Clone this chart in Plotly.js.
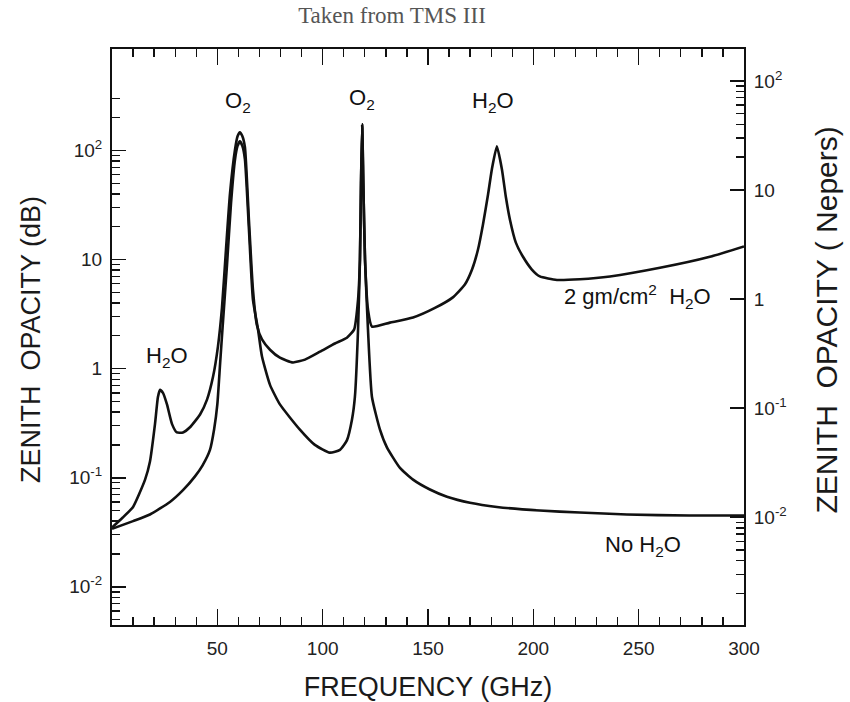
<!DOCTYPE html>
<html>
<head>
<meta charset="utf-8">
<script src="https://cdn.plot.ly/plotly-3.0.1.min.js"></script>
<style>html,body{margin:0;padding:0;background:#fff;}#chart{width:850px;height:702px;}</style>
</head>
<body>
<div id="chart"></div>
<script>
// Frequency (GHz) and zenith opacity (dB)
const freqNoH2O = [0, 10, 18, 27.5, 33.7, 39.4, 43, 46.5, 48.5, 50, 51.3, 52.5, 53.5, 54.6, 56.5, 58.4, 59.6, 60.7, 61.9, 63.1, 65, 66.9, 69.3, 71.2, 75, 79.7, 89.2, 96.3, 103.4, 108.2, 111.5, 113.9, 115.3, 116.8, 117.7, 118.2, 118.75, 119.3, 120.1, 121.5, 123.4, 127.2, 130.5, 136.7, 142.9, 150.9, 159, 169.9, 182.7, 203, 222, 244.4, 274, 300];
const opacityNoH2O = [0.034, 0.040, 0.046, 0.060, 0.077, 0.103, 0.13, 0.18, 0.28, 0.47, 1.1, 2.4, 4.5, 9, 33, 83, 110, 121, 110, 83, 19, 4.3, 2.3, 1.29, 0.71, 0.47, 0.276, 0.20, 0.17, 0.18, 0.22, 0.34, 0.55, 2.3, 10, 50, 174, 50, 10, 2.3, 0.55, 0.276, 0.19, 0.123, 0.096, 0.078, 0.067, 0.059, 0.054, 0.050, 0.048, 0.046, 0.045, 0.045];

const freqWet = [0, 5, 10, 15.7, 18, 20.4, 21.8, 22.8, 24.2, 26.1, 28.5, 30.8, 33.7, 37, 41.8, 45.1, 48, 50.3, 52.2, 54.1, 56, 58.4, 59.6, 60.7, 61.9, 63.1, 65, 66.9, 68.8, 71.2, 75, 79.7, 85.9, 91.6, 98.7, 105.8, 111.5, 114.9, 116.8, 117.7, 118.2, 118.75, 119.3, 120.1, 121.5, 123.4, 131.9, 142.9, 153.3, 161.8, 167.5, 170.9, 173.7, 176.1, 178.5, 180.3, 182.7, 185.1, 187, 188.9, 191.7, 195.1, 199.3, 203.1, 211.2, 222.1, 236.4, 260.1, 283.8, 300];
const opacityWet = [0.035, 0.043, 0.054, 0.096, 0.14, 0.31, 0.55, 0.64, 0.60, 0.47, 0.31, 0.26, 0.26, 0.29, 0.38, 0.52, 0.85, 1.6, 3.6, 12.3, 40, 102, 135, 147, 135, 107, 23, 5.3, 2.5, 1.85, 1.49, 1.26, 1.14, 1.21, 1.43, 1.7, 1.92, 2.28, 4.3, 10, 50, 174, 50, 10, 3.5, 2.43, 2.64, 2.94, 3.6, 4.5, 5.9, 8.1, 12.3, 21, 39.4, 67, 109, 67, 37, 23.2, 14.3, 10.6, 8.1, 7.0, 6.5, 6.6, 7.0, 8.4, 10.6, 13.2];

const xTickVals = [50, 100, 150, 200, 250, 300];
const yTickVals = [0.01, 0.1, 1, 10, 100];
const yTickText = ['10<sup>-2</sup>', '10<sup>-1</sup>', '1', '10', '10<sup>2</sup>'];
const npTickVals = [0.01, 0.1, 1, 10, 100];
const npTickText = ['10<sup>-2</sup>', '10<sup>-1</sup>', '1', '10', '10<sup>2</sup>'];

const DB_PER_NEPER_LOG = Math.log10(10 * Math.LOG10E); // 1 Np = 4.343 dB
const yLogRange = [-2.35, 2.93];

// minor tick positions
const leftMinor = [];
[0.001, 0.01, 0.1, 1, 10].forEach(d => { for (let k = 2; k <= 9; k++) leftMinor.push(k * d); });
leftMinor.push(200, 300);
const rightMinor = [];
for (let k = 2; k <= 9; k++) { rightMinor.push(k * 0.001); rightMinor.push(k * 10); }

const ink = '#111';
const lineStyle = {color: ink, width: 2.6, shape: 'spline', smoothing: 0.5};

const traces = [
  {x: freqNoH2O, y: opacityNoH2O, type: 'scatter', mode: 'lines', line: lineStyle, name: 'No H2O', hoverinfo: 'x+y'},
  {x: freqWet, y: opacityWet, type: 'scatter', mode: 'lines', line: lineStyle, name: '2 gm/cm2 H2O', hoverinfo: 'x+y'},
  // empty trace so that the Nepers axis is drawn
  {x: [], y: [], type: 'scatter', mode: 'lines', yaxis: 'y2', showlegend: false, hoverinfo: 'skip'}
];

const tickFont = {family: 'Liberation Sans, Arial, sans-serif', size: 19, color: '#222'};
const annFont = {family: 'Liberation Sans, Arial, sans-serif', size: 22, color: '#111'};
const titleFont = {family: 'Liberation Sans, Arial, sans-serif', size: 27, color: '#1a1a1a'};

const layout = {
  width: 850, height: 702,
  margin: {l: 112, r: 106, t: 49, b: 77},
  paper_bgcolor: '#fff', plot_bgcolor: '#fff',
  showlegend: false,
  title: {text: 'Taken from TMS III', font: {family: 'Liberation Serif, Times New Roman, serif', size: 23, color: '#555'},
          xref: 'paper', x: 0.443, xanchor: 'center', yref: 'container', y: 0.978, yanchor: 'middle'},
  xaxis: {
    range: [0, 300], showgrid: false, zeroline: false,
    showline: true, linecolor: ink, linewidth: 2, mirror: 'ticks',
    ticks: 'inside', ticklen: 16, tickwidth: 1.6, tickcolor: ink,
    tickmode: 'array', tickvals: xTickVals, tickfont: tickFont,
    ticklabelstandoff: 5,
    minor: {dtick: 10, tick0: 0, ticks: 'inside', ticklen: 8, tickwidth: 1.4, tickcolor: ink, showgrid: false},
    title: {text: 'FREQUENCY (GHz)', font: {family: 'Liberation Sans, Arial, sans-serif', size: 27, color: '#1a1a1a'}, standoff: 20}
  },
  yaxis: {
    type: 'log', range: yLogRange, showgrid: false, zeroline: false,
    showline: true, linecolor: ink, linewidth: 2,
    ticks: 'inside', ticklen: 14, tickwidth: 1.6, tickcolor: ink,
    tickmode: 'array', tickvals: yTickVals, ticktext: yTickText, tickfont: tickFont,
    ticklabelstandoff: 4,
    minor: {tickmode: 'array', tickvals: leftMinor, ticks: 'inside', ticklen: 8, tickwidth: 1.4, tickcolor: ink, showgrid: false}
  },
  yaxis2: {
    type: 'log', overlaying: 'y', side: 'right', anchor: 'x',
    range: [yLogRange[0] - DB_PER_NEPER_LOG, yLogRange[1] - DB_PER_NEPER_LOG],
    showgrid: false, zeroline: false,
    showline: true, linecolor: ink, linewidth: 2,
    ticks: 'inside', ticklen: 14, tickwidth: 1.6, tickcolor: ink,
    tickmode: 'array', tickvals: npTickVals, ticktext: npTickText, tickfont: tickFont,
    ticklabelstandoff: 4,
    minor: {tickmode: 'array', tickvals: rightMinor, ticks: 'inside', ticklen: 8, tickwidth: 1.4, tickcolor: ink, showgrid: false}
  },
  annotations: [
    {text: 'O<sub>2</sub>', x: 60, y: 2.44, xref: 'x', yref: 'y', showarrow: false, font: annFont},
    {text: 'O<sub>2</sub>', x: 118.7, y: 2.47, xref: 'x', yref: 'y', showarrow: false, font: annFont},
    {text: 'H<sub>2</sub>O', x: 181, y: 2.44, xref: 'x', yref: 'y', showarrow: false, font: annFont},
    {text: 'H<sub>2</sub>O', x: 26, y: 0.11, xref: 'x', yref: 'y', showarrow: false, font: annFont},
    {text: '2 gm/cm<sup>2</sup>  H<sub>2</sub>O', x: 249.6, y: 0.66, xref: 'x', yref: 'y', showarrow: false, font: annFont},
    {text: 'No H<sub>2</sub>O', x: 252, y: -1.63, xref: 'x', yref: 'y', showarrow: false, font: annFont},
    {text: 'ZENITH  OPACITY (dB)', textangle: -90, x: -0.128, y: 0.495, xref: 'paper', yref: 'paper', xanchor: 'center', yanchor: 'middle', showarrow: false, font: titleFont},
    {text: 'ZENITH  OPACITY ( Nepers)', textangle: -90, x: 1.131, y: 0.53, xref: 'paper', yref: 'paper', xanchor: 'center', yanchor: 'middle', showarrow: false, font: Object.assign({}, titleFont, {size: 30})}
  ]
};

Plotly.newPlot('chart', traces, layout, {staticPlot: true, displayModeBar: false});
</script>
</body>
</html>
